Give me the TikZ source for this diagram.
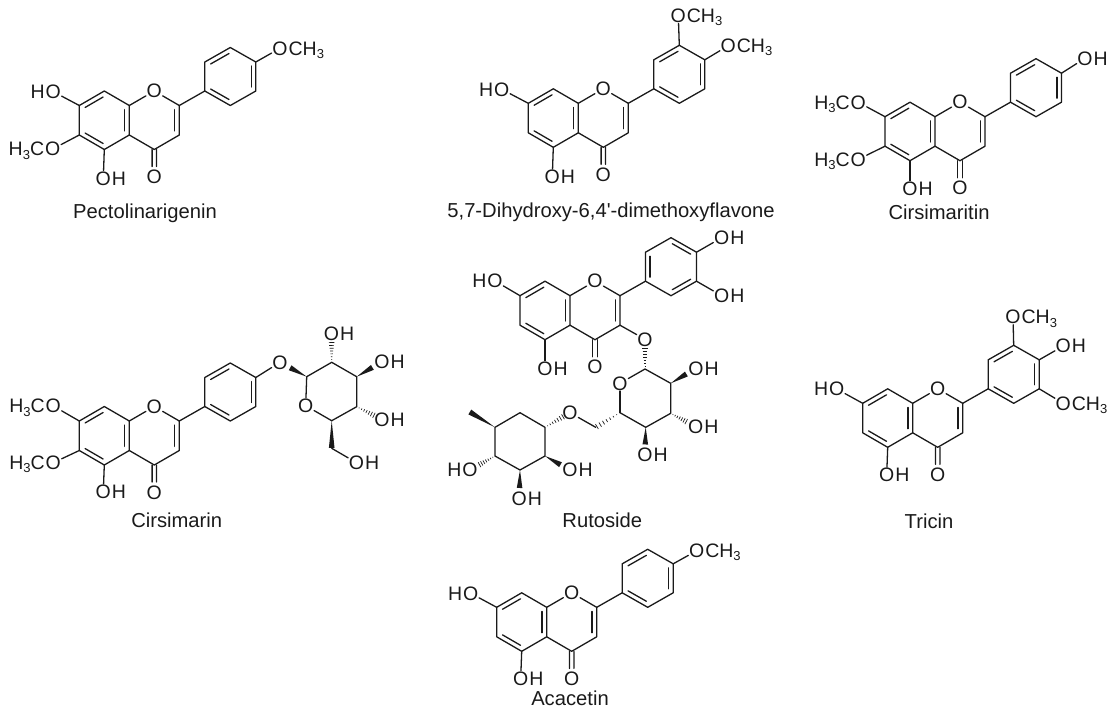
\documentclass[tikz,border=0pt]{standalone}
\usepackage{fontspec}
\setmainfont{Liberation Sans}
\usetikzlibrary{calc}
\definecolor{ink}{HTML}{1A1A1A}
\tikzset{
  bond/.style={draw=ink,line width=1.3pt,line cap=round,line join=round},
  atom/.style={text=ink,font=\fontsize{19.5}{20}\selectfont,inner xsep=0.6pt,inner ysep=0.6pt},
  tail/.style={text=ink,font=\fontsize{19.5}{20}\selectfont,inner sep=0pt},
  caption/.style={text=ink,font=\fontsize{20.2}{21}\selectfont,inner sep=0pt,anchor=base}
}
\newcommand\subthree{{\fontsize{13}{13}\selectfont\raisebox{-3.5pt}{3}}}
\newcommand\mO[3]{\node[atom] (#1) at (#2,#3) {O};}
\newcommand\mOR[4]{\mO{#1}{#2}{#3}\node[tail,anchor=base west] (#1r) at (#1.base east) {#4};}
\newcommand\mLO[4]{\mO{#1}{#2}{#3}\node[tail,anchor=base east] (#1l) at (#1.base west) {#4};}
\newcommand\dbl[2]{\draw[bond] ($(#1)!0.14!(#2)!4.6pt!-90:(#2)$) -- ($(#2)!0.14!(#1)!4.6pt!90:(#1)$);}
\newcommand\wedgeb[3]{\fill[ink] (#1) -- ($(#1)!#3!(#2)!2.8pt!90:(#2)$) -- ($(#1)!#3!(#2)!2.8pt!-90:(#2)$) -- cycle;}
\newcommand\hashb[3]{\foreach \t in {1,...,7}{\pgfmathsetmacro\u{\t/7*#3}\pgfmathsetmacro\w{\t/7*2.8}
  \draw[ink,line width=0.7pt] ($(#1)!\u!(#2)!\w pt!90:(#2)$) -- ($(#1)!\u!(#2)!\w pt!-90:(#2)$);}}
% flavone skeleton: rings A, C, coordinates of ring B; prefix, x and y of C8a
\newcommand\flavone[3]{%
  \begin{scope}[shift={(#2,#3)}]
    \coordinate (#1a) at (0,0);   \coordinate (#1b) at (0,29.5);
    \coordinate (#1c4) at (25,44);\coordinate (#1c3) at (50,29.5);
    \coordinate (#1c2) at (50,0); \coordinate (#1c8) at (-25,-14.5);
    \coordinate (#1c7) at (-50,0);\coordinate (#1c6) at (-50,29.5);
    \coordinate (#1c5) at (-25,44);
    \coordinate (#1r1) at (75.5,-14.5);\coordinate (#1r2) at (75.5,-43.5);
    \coordinate (#1r3) at (101,-58);   \coordinate (#1r4) at (126.5,-43.5);
    \coordinate (#1r5) at (126.5,-14.5);\coordinate (#1r6) at (101,0);
    \mO{#1ox}{25}{-14.5}
    \mO{#1oc}{25}{71.5}
  \end{scope}
  \draw[bond] (#1c7) -- (#1c8) -- (#1a) -- (#1b) -- (#1c5) -- (#1c6) -- cycle;
  \draw[bond] (#1b) -- (#1c4) -- (#1c3) -- (#1c2);
  \draw[bond] (#1a) -- (#1ox);
  \draw[bond] (#1ox) -- (#1c2);
  \draw[bond] (#1c2) -- (#1r1);
  \draw[bond] (#1r1) -- (#1r2) -- (#1r3) -- (#1r4) -- (#1r5) -- (#1r6) -- cycle;
  \dbl{#1c7}{#1c8}\dbl{#1a}{#1b}\dbl{#1c5}{#1c6}\dbl{#1c2}{#1c3}
  \draw[bond] ($(#1c4)!2.2pt!90:(#1oc)$) -- ($(#1c4)!0.62!(#1oc)!2.2pt!90:(#1oc)$);
  \draw[bond] ($(#1c4)!2.2pt!-90:(#1oc)$) -- ($(#1c4)!0.62!(#1oc)!2.2pt!-90:(#1oc)$);
}
\newcommand\ringstd[1]{\dbl{#1r2}{#1r3}\dbl{#1r4}{#1r5}\dbl{#1r6}{#1r1}}
\newcommand\methyl{CH\subthree}
\newcommand\hmethyl{H\subthree C}
\begin{document}
\begin{tikzpicture}[x=1pt,y=-1pt]
\useasboundingbox (0,0) rectangle (1119,713);
% Pectolinarigenin
\flavone{p}{129.3}{105.5}\ringstd{p}
\mLO{pho}{53.3}{91.7}{H}\mLO{pme}{52.7}{149}{\hmethyl}
\mOR{poh}{103.3}{178.3}{H}\mOR{pom}{280}{48.3}{\methyl}
\draw[bond] (pc7) -- (pho); \draw[bond] (pc6) -- (pme);
\draw[bond] (pc5) -- (poh); \draw[bond] (pr4) -- (pom);
\node[caption] (pcap) at (145,218) {Pectolinarigenin};
% 5,7-Dihydroxy-6,4'-dimethoxyflavone
\flavone{d}{578.3}{103.3}\ringstd{d}
\mLO{dho}{501.7}{89.3}{H}\mOR{doh}{552.3}{176.7}{H}
\mOR{dot}{678.3}{15.7}{\methyl}\mOR{dor}{728.3}{45.7}{\methyl}
\draw[bond] (dc7) -- (dho); \draw[bond] (dc5) -- (doh);
\draw[bond] (dr3) -- (dot); \draw[bond] (dr4) -- (dor);
\node[caption] (dcap) at (611,217) {5,7-Dihydroxy-6,4\textquotesingle-dimethoxyflavone};
% Cirsimaritin
\flavone{c}{935}{116.7}\ringstd{c}
\mLO{cmt}{858.3}{102.3}{\hmethyl}\mLO{cmb}{858.3}{159.3}{\hmethyl}
\mOR{coh}{910}{188.3}{H}\mOR{cob}{1085}{58.3}{H}
\draw[bond] (cc7) -- (cmt); \draw[bond] (cc6) -- (cmb);
\draw[bond] (cc5) -- (coh); \draw[bond] (cr4) -- (cob);
\node[caption] (ccap) at (939,219) {Cirsimaritin};
% Cirsimarin
\flavone{s}{129.3}{421}\ringstd{s}
\mLO{smt}{53.3}{406}{\hmethyl}\mLO{smb}{53.3}{462.7}{\hmethyl}
\mOR{soh}{103.3}{491.7}{H}\mO{sog}{280}{362.3}
\draw[bond] (sc7) -- (smt); \draw[bond] (sc6) -- (smb);
\draw[bond] (sc5) -- (soh); \draw[bond] (sr4) -- (sog);
\coordinate (g1) at (306.7,376.7);\coordinate (g2) at (331.7,362.3);
\coordinate (g3) at (356.7,376.7);\coordinate (g4) at (356.7,406.7);
\coordinate (g5) at (331.7,420.7);\mO{gox}{305.7}{405.7}
\coordinate (g6) at (331.7,448.3);
\draw[bond] (gox) -- (g1) -- (g2) -- (g3) -- (g4) -- (g5);
\draw[bond] (g5) -- (gox);
\mOR{goa}{331.5}{333.3}{H}\mOR{gob}{382}{361.7}{H}
\mOR{goc}{382}{419.3}{H}\mOR{god}{356.5}{462.7}{H}
\wedgeb{g1}{sog}{0.62}\hashb{g2}{goa}{0.68}\wedgeb{g3}{gob}{0.62}\hashb{g4}{goc}{0.68}
\wedgeb{g5}{g6}{0.98}\draw[bond] (g6) -- (god);
\node[caption] (scap) at (176.7,527) {Cirsimarin};
% Rutoside
\flavone{u}{570}{295.7}
\dbl{ur1}{ur2}\dbl{ur3}{ur4}\dbl{ur5}{ur6}
\mLO{uho}{495}{281}{H}\mOR{uoh}{545}{368.3}{H}
\mOR{uoa}{721.7}{237.7}{H}\mOR{uob}{721.7}{295.7}{H}
\mO{uog}{645}{339.3}
\draw[bond] (uc7) -- (uho); \draw[bond] (uc5) -- (uoh);
\draw[bond] (ur4) -- (uoa); \draw[bond] (ur5) -- (uob);
\draw[bond] (uc3) -- (uog);
\coordinate (h1) at (645,369);\mO{hox}{620}{383.3}
\coordinate (h3) at (670.7,383.3);\coordinate (h4) at (670.7,413.3);
\coordinate (h5) at (645.7,427.3);\coordinate (h6) at (620,412.7);
\coordinate (h7) at (595.7,427.3);\mO{hlk}{570}{412.7}
\draw[bond] (hox) -- (h1) -- (h3) -- (h4) -- (h5) -- (h6);
\draw[bond] (h6) -- (hox);
\draw[bond] (h7) -- (hlk);
\mOR{hoa}{696}{368.3}{H}\mOR{hob}{695.7}{426.7}{H}\mOR{hoc}{645}{455}{H}
\hashb{h1}{uog}{0.68}\wedgeb{h3}{hoa}{0.62}\hashb{h4}{hob}{0.62}\wedgeb{h5}{hoc}{0.62}\hashb{h6}{h7}{0.95}
\coordinate (k1) at (545,427.3);\coordinate (k2) at (520,412.7);
\coordinate (k3) at (495,427.3);\coordinate (k4) at (495,456);
\coordinate (k5) at (520,470);\coordinate (k6) at (545,456);
\coordinate (k7) at (469.3,411.7);
\draw[bond] (k1) -- (k2) -- (k3) -- (k4) -- (k5) -- (k6) -- cycle;
\mLO{koa}{470}{470}{H}\mOR{kob}{570}{470}{H}\mOR{koc}{519.3}{499}{H}
\hashb{k1}{hlk}{0.72}\wedgeb{k3}{k7}{0.98}\hashb{k4}{koa}{0.62}\wedgeb{k5}{koc}{0.62}\wedgeb{k6}{kob}{0.62}
\node[caption] (ucap) at (602.3,527.5) {Rutoside};
% Tricin
\flavone{t}{912.7}{403.3}\ringstd{t}
\mLO{tho}{836.7}{389}{H}\mOR{toh}{886.7}{475}{H}
\mOR{tob}{1063.3}{346}{H}\mOR{toc}{1063.3}{403.3}{\methyl}
\mOR{tot}{1013}{317}{\methyl}
\draw[bond] (tc7) -- (tho); \draw[bond] (tc5) -- (toh);
\draw[bond] (tr4) -- (tob); \draw[bond] (tr5) -- (toc); \draw[bond] (tr3) -- (tot);
\node[caption] (tcap) at (929,528) {Tricin};
% Acacetin
\flavone{a}{546.7}{607.3}\ringstd{a}
\mLO{aho}{470.7}{593.3}{H}\mOR{aoh}{520.7}{678.3}{H}\mOR{aom}{696.7}{550.7}{\methyl}
\draw[bond] (ac7) -- (aho); \draw[bond] (ac5) -- (aoh); \draw[bond] (ar4) -- (aom);
\node[caption] (acap) at (570,705) {Acacetin};
\end{tikzpicture}
\end{document}
